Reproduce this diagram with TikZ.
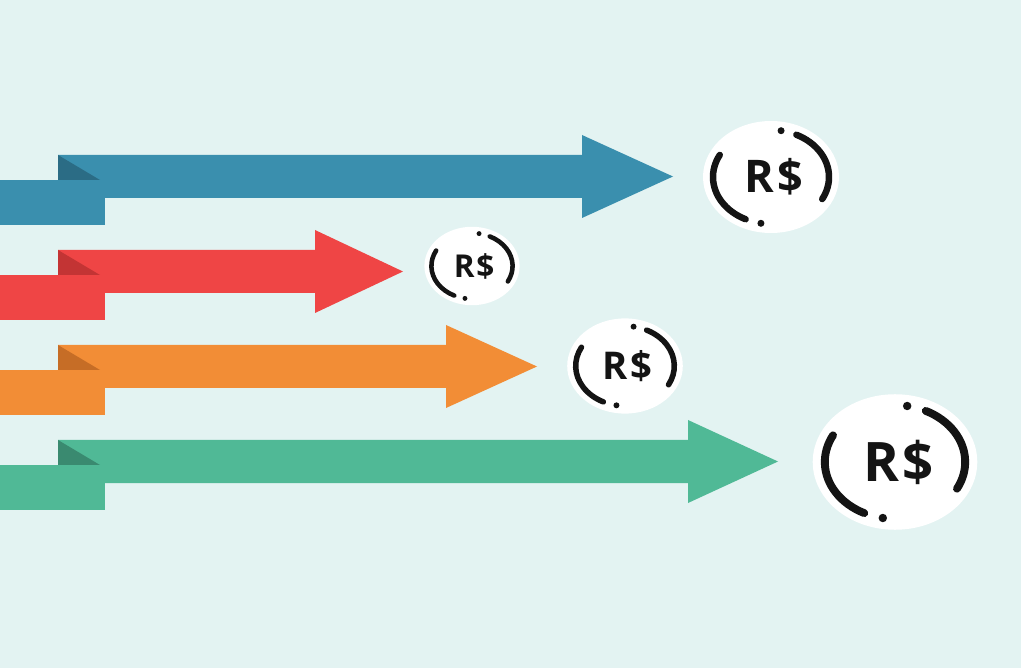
\documentclass[tikz,border=0pt]{standalone}
\usepackage{fontspec}
\setmainfont{Open Sans}
\definecolor{bgc}{HTML}{E3F3F2}
\definecolor{ablue}{HTML}{3A8FAE}
\definecolor{ablued}{HTML}{2B6C85}
\definecolor{ared}{HTML}{EF4545}
\definecolor{aredd}{HTML}{C33434}
\definecolor{aorange}{HTML}{F28D36}
\definecolor{aoranged}{HTML}{C66D26}
\definecolor{agreen}{HTML}{50B996}
\definecolor{agreend}{HTML}{3A8A70}
\definecolor{ink}{HTML}{141414}
\newcommand\ribbonarrow[6]{% name, color, dark, top, headback, tip
  \fill[#2] (0,#4+25) rectangle (105,#4+70);
  \fill[#2] (58,#4) -- (#5,#4) -- (#5,#4-20) -- (#6,#4+21.5) coordinate (#1tip)
     -- (#5,#4+63) -- (#5,#4+43) -- (58,#4+43) -- cycle;
  \fill[#3] (58,#4) -- (58,#4+25) -- (100,#4+25) -- cycle;
}
\newcommand\coin[4]{% name, x, y, scale
  \begin{scope}[shift={(#2,#3)}, scale=#4]
    \fill[white] (0,0) ellipse [x radius=68, y radius=56];
    \draw[ink, line width={#4*6.5pt}, line cap=round]
      (28:58 and 47) arc[start angle=28, end angle=-64, x radius=58, y radius=47];
    \draw[ink, line width={#4*6.5pt}, line cap=round]
      (-152:58 and 47) arc[start angle=-152, end angle=-244, x radius=58, y radius=47];
    \fill[ink] (-80:58 and 47) circle[radius=3.5];
    \fill[ink] (100:58 and 47) circle[radius=3.5];
  \end{scope}
  \node[inner sep=0pt, text=ink, font=\fontsize{45}{50}\selectfont\bfseries\addfontfeature{LetterSpace=6}, scale=#4] (#1) at (#2+3*#4,#3) {R\$};
}
\begin{document}
\begin{tikzpicture}[x=1pt,y=-1pt]
\useasboundingbox (0,0) rectangle (1021,668);
\fill[bgc] (0,0) rectangle (1021,668);
\ribbonarrow{blue}{ablue}{ablued}{155}{582}{673}
\ribbonarrow{red}{ared}{aredd}{250}{315}{403}
\ribbonarrow{orange}{aorange}{aoranged}{345}{446}{537}
\ribbonarrow{green}{agreen}{agreend}{440}{688}{778}
\coin{coinblue}{771}{177}{1}
\coin{coinred}{472}{266}{0.7}
\coin{coinorange}{625}{366}{0.85}
\coin{coingreen}{895}{462}{1.21}
\end{tikzpicture}
\end{document}
